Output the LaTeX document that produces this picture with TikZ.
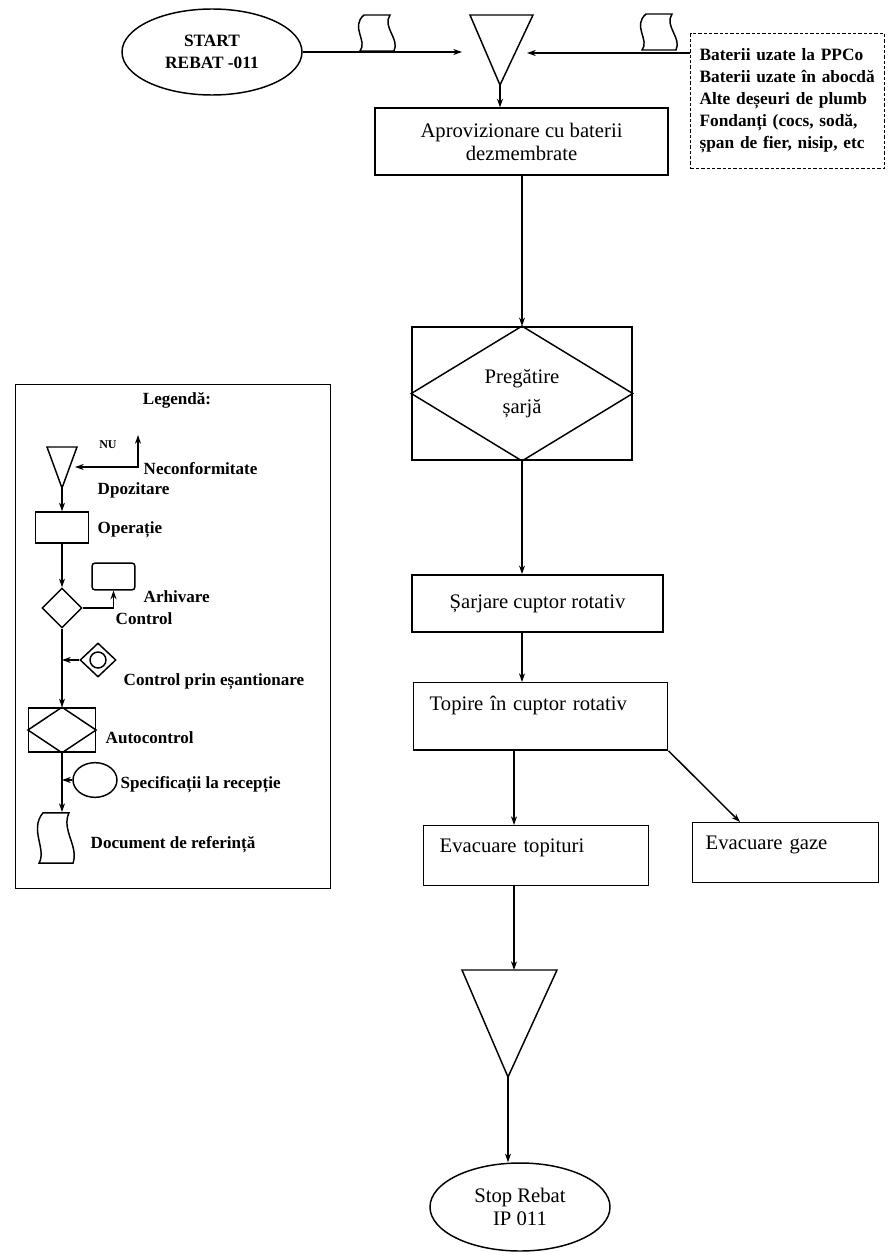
\documentclass[tikz,border=0pt]{standalone}
\usepackage{fontspec}
\setmainfont{Liberation Serif}
\usetikzlibrary{arrows.meta,shapes.geometric,calc}

\begin{document}
\begin{tikzpicture}[x=0.75pt, y=-0.75pt, >={Stealth[length=6.5pt,width=4.5pt]}, line width=1.1pt,
    box/.style={draw, rectangle, align=center, inner sep=0pt, font=\fontsize{15.5}{17.25}\selectfont},
    leftbox/.style={draw, rectangle, anchor=north west, align=left, inner xsep=12pt, inner ysep=0pt,
        text height=20pt, font=\fontsize{15.5}{17}\selectfont},
    oval/.style={draw, ellipse, align=center, inner sep=0pt},
    legtext/.style={anchor=west, inner sep=0pt, font=\bfseries\fontsize{12.8}{14}\selectfont},
    docsym/.pic={\draw (-12,-18) -- (14,-18) .. controls (6,-6) and (24,6) .. (18,18)
        -- (-16,18) .. controls (-8,8) and (-26,-6) .. (-12,-18) -- cycle;}]
    \useasboundingbox (0,0) rectangle (888,1252);

    % 主流程的竖直对齐线
    \coordinate (col) at (522,0);
    \coordinate (col2) at (514,0);

    % 起点、输入和第一个堆放点
    \node[oval, minimum width=135pt, minimum height=64.5pt, font=\bfseries\fontsize{13}{16.5}\selectfont]
        (start) at (212,52) {START\\REBAT -011};
    \coordinate (t1l) at (470,15);
    \coordinate (t1r) at (533,15);
    \coordinate (t1b) at (500,85);
    \draw (t1l) -- (t1r) -- (t1b) -- cycle;
    \coordinate (t1in) at (462,52);
    \coordinate (t1in2) at (527,53);
    \draw[->] (start.east) -- (t1in);
    \pic at (376,33) {docsym};

    \node[draw, dash pattern=on 2.5pt off 1.5pt, line width=0.8pt, anchor=north west,
        minimum width=145.5pt, minimum height=101.25pt, inner xsep=6pt, text width=132pt, align=left,
        font=\bfseries\fontsize{13}{16.5}\selectfont] (inputs) at (690,33)
        {Baterii uzate la PPCo\\Baterii uzate în abocdă\\Alte deșeuri de plumb\\Fondanți (cocs, sodă,\\șpan de fier, nisip, etc};
    \draw[->] (inputs.west |- t1in2) -- (t1in2);
    \pic at (658,32) {docsym};

    % 流程框
    \node[box, minimum width=220pt, minimum height=50pt] (aprov) at (521.5,141.5)
        {Aprovizionare cu baterii\\dezmembrate};
    \draw[->] (t1b) -- (t1b |- aprov.north);

    \node[box, minimum width=165pt, minimum height=100pt, font=\fontsize{15.5}{22.5}\selectfont]
        (preg) at (522,393.5) {Pregătire\\șarjă};
    \draw (preg.north) -- (preg.east) -- (preg.south) -- (preg.west) -- cycle;
    \draw[->] (aprov.south -| col) -- (preg.north -| col);

    \node[box, minimum width=188pt, minimum height=43pt] (sarj) at (537.5,603.5) {Șarjare cuptor rotativ};
    \draw[->] (preg.south) -- (preg.south |- sarj.north);

    \node[leftbox, text width=166.5pt, text depth=29.5pt, text height=21pt] (topire) at (413,682)
        {Topire în cuptor rotativ};
    \draw[->] (sarj.south -| col) -- (topire.north -| col);

    \node[leftbox, text width=144.75pt, text depth=25pt] (evac) at (423,825) {Evacuare topituri};
    \node[leftbox, inner xsep=9.75pt, text width=120pt, text depth=25pt] (gaze) at (692,822) {Evacuare gaze};
    \draw[->] (topire.south -| col2) -- (evac.north -| col2);
    \draw[->] (topire.south east) -- ([xshift=36pt]gaze.north west);

    % 第二个堆放点和终点
    \coordinate (t2l) at (462,970);
    \coordinate (t2r) at (557,970);
    \coordinate (t2b) at (508,1077);
    \draw (t2l) -- (t2r) -- (t2b) -- cycle;
    \draw[->] (evac.south -| col2) -- (col2 |- t2l);
    \node[oval, minimum width=135pt, minimum height=66pt, font=\fontsize{15.5}{17}\selectfont]
        (stop) at (520,1207) {Stop Rebat\\IP 011};
    \draw[->] (t2b) -- (t2b |- stop.north);

    % 图例
    \node[draw, anchor=north west, minimum width=236pt, minimum height=378pt] (legend) at (15,384) {};
    \node[font=\bfseries\fontsize{12.8}{14}\selectfont] (legtitle) at (177,400) {Legendă:};

    \coordinate (lt1) at (47,447);
    \coordinate (lt2) at (77,447);
    \coordinate (lt3) at (62,488);
    \draw (lt1) -- (lt2) -- (lt3) -- cycle;
    \coordinate (lnu) at (75,467);
    \coordinate (lnuc) at (138,467);
    \coordinate (lnuup) at (138,435);
    \draw[<->] (lnu) -- (lnuc) -- (lnuup);
    \node[inner sep=0pt, font=\bfseries\fontsize{9}{10}\selectfont] (lnutext) at (108,445) {NU};
    \node[legtext] (lneconf) at (143,469) {Neconformitate};
    \node[legtext] (ldepo) at (97,490) {Dpozitare};

    \node[draw, minimum width=39.75pt, minimum height=23.25pt, inner sep=0pt] (lop) at (62,527.5) {};
    \draw[->] (lt3) -- (lop.north);
    \node[legtext] (loptext) at (97,530) {Operație};

    \node[draw, diamond, minimum width=30pt, minimum height=30pt, inner sep=0pt] (ldia) at (62,608) {};
    \draw[->] (lop.south) -- (ldia.north);
    \node[draw, rounded corners=2pt, minimum width=32pt, minimum height=20pt, inner sep=0pt] (larch) at (113.5,576.5) {};
    \draw[->] (ldia.east) -| (larch.south);
    \node[legtext] (larchtext) at (143,597) {Arhivare};
    \node[legtext] (lctrltext) at (115,619) {Control};

    \node[draw, diamond, minimum width=27pt, minimum height=25.5pt, inner sep=0pt] (lesant) at (98,660) {};
    \draw (lesant.center) circle [radius=6pt];
    \node[legtext] (lesanttext) at (123,682) {Control prin eșantionare};

    \node[draw, minimum width=50pt, minimum height=33pt, inner sep=0pt] (lauto) at (62,730) {};
    \draw (lauto.north) -- (lauto.east) -- (lauto.south) -- (lauto.west) -- cycle;
    \draw[->] (ldia.south) -- (lauto.north);
    \draw[->] (lesant.west) -- (lesant.west -| ldia.south);
    \node[legtext] (lautotext) at (105,738) {Autocontrol};

    \node[draw, ellipse, minimum width=33pt, minimum height=26pt, inner sep=0pt] (lspec) at (95,780) {};
    \draw[->] (lspec.west) -- (lspec.west -| lauto.south);
    \node[legtext] (lspectext) at (120,785) {Specificații la recepție};

    \coordinate (ldoctop) at (62,812);
    \draw[->] (lauto.south) -- (ldoctop);
    \pic[yscale=1.4] at (55,838) {docsym};
    \node[legtext] (ldoctext) at (90,845) {Document de referință};
\end{tikzpicture}
\end{document}
